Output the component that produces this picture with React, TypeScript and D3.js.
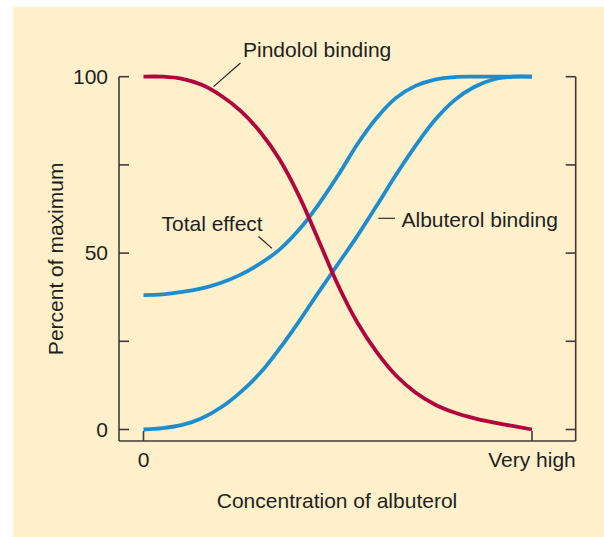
import React from "react";
import * as d3 from "d3";

// concentration positions (0 = "0", 10 = "Very high")
const conc = [0, 0.5, 1, 1.5, 2, 2.5, 3, 3.5, 4, 4.5, 5, 5.5, 6, 6.5, 7, 7.5, 8, 8.5, 9, 9.5, 10];
const pindolol = [100, 100, 99.4, 97.7, 94.6, 90.3, 84.4, 76.6, 66.3, 53.8, 41.1, 30.4, 22.0, 15.3, 10.5, 7.1, 4.8, 3.2, 2.0, 1.0, 0];
const albuterol = [0, 0.4, 1.3, 3.2, 6.3, 10.6, 16.0, 22.9, 30.6, 38.8, 46.8, 54.8, 63.4, 72.2, 80.4, 87.7, 93.3, 97.0, 99.2, 100, 100];
const totalEffect = [38.1, 38.3, 39.0, 40.0, 41.6, 43.9, 47.0, 51.0, 56.6, 63.7, 71.9, 80.8, 88.3, 94.0, 97.4, 99.2, 99.9, 100, 100, 100, 100];

const yTicks = [0, 25, 50, 75, 100];
const yTickLabels = [
  { v: 0, label: "0" },
  { v: 50, label: "50" },
  { v: 100, label: "100" },
];
const xTickLabels = [
  { v: 0, label: "0" },
  { v: 10, label: "Very high" },
];

const RED = "#b1063d";
const BLUE = "#1e8dcf";
const AXIS = "#3f3a36";
const TEXT = "#231f20";
const BG = "#fdf0cb";
const FONT = "'Liberation Sans', Arial, Helvetica, sans-serif";

export default function App() {
  const x = d3.scaleLinear().domain([0, 10]).range([143.5, 532]);
  const y = d3.scaleLinear().domain([0, 100]).range([429.5, 76.7]);
  const axL = 119;
  const axR = 575.7;
  const axB = 441;
  const tick = 10;

  const line = d3
    .line<number>()
    .x((_, i) => x(conc[i]))
    .y((d) => y(d))
    .curve(d3.curveCatmullRom.alpha(0.5));

  return (
    <svg
      width={604}
      height={537}
      style={{ position: "absolute", left: 0, top: 0, fontFamily: FONT }}
    >
      <rect x={0} y={0} width={604} height={537} fill="#ffffff" />
      <rect x={13} y={7} width={591} height={530} fill={BG} />

      {/* axes */}
      <g stroke={AXIS} strokeWidth={1.6} fill="none">
        <line x1={axL} y1={y(100)} x2={axL} y2={axB} />
        <line x1={axR} y1={y(100)} x2={axR} y2={axB} />
        <line x1={axL} y1={axB} x2={axR} y2={axB} />
        {yTicks.map((t) => (
          <g key={t}>
            <line x1={axL} y1={y(t)} x2={axL + tick} y2={y(t)} />
            <line x1={axR} y1={y(t)} x2={axR - tick} y2={y(t)} />
          </g>
        ))}
        {xTickLabels.map((t) => (
          <line key={t.label} x1={x(t.v)} y1={axB} x2={x(t.v)} y2={axB - tick} />
        ))}
      </g>

      {/* tick labels */}
      <g fill={TEXT} fontSize={21}>
        {yTickLabels.map((t) => (
          <text key={t.label} x={108} y={y(t.v)} dy="0.35em" textAnchor="end">
            {t.label}
          </text>
        ))}
        {xTickLabels.map((t) => (
          <text key={t.label} x={x(t.v)} y={467} textAnchor="middle">
            {t.label}
          </text>
        ))}
        <text x={337} y={508} textAnchor="middle">
          Concentration of albuterol
        </text>
        <text
          transform={`translate(63,${(y(100) + axB) / 2}) rotate(-90)`}
          textAnchor="middle"
        >
          Percent of maximum
        </text>
      </g>

      {/* curves */}
      <path d={line(totalEffect) || ""} fill="none" stroke={BLUE} strokeWidth={3.8} />
      <path d={line(albuterol) || ""} fill="none" stroke={BLUE} strokeWidth={3.8} />
      <path d={line(pindolol) || ""} fill="none" stroke={RED} strokeWidth={3.8} />

      {/* annotations */}
      <g stroke={TEXT} strokeWidth={1.1}>
        <line x1={213.5} y1={86.7} x2={240.5} y2={63} />
        <line x1={258.5} y1={236.5} x2={272} y2={248.3} />
        <line x1={378.3} y1={218.3} x2={395} y2={218.3} />
      </g>
      <g fill={TEXT} fontSize={21}>
        <text x={243} y={57}>Pindolol binding</text>
        <text x={161.5} y={231}>Total effect</text>
        <text x={401.5} y={226.5}>Albuterol binding</text>
      </g>
    </svg>
  );
}
